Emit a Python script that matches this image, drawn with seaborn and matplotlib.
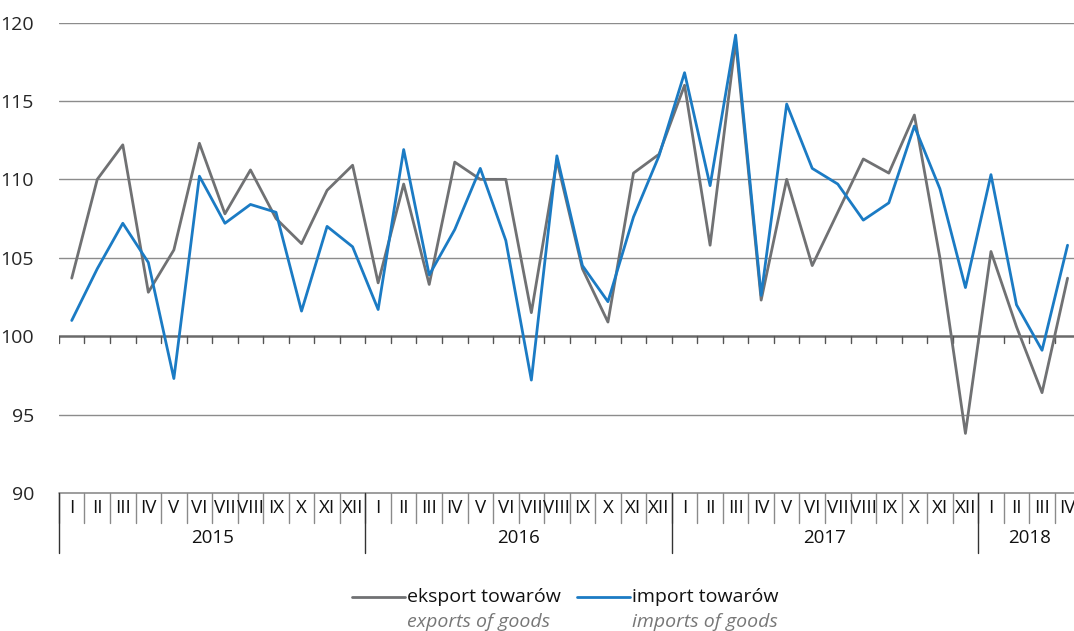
import numpy as np
import pandas as pd
import matplotlib
matplotlib.use("Agg")
import matplotlib.pyplot as plt
from matplotlib.lines import Line2D
import seaborn as sns

# dane: dynamika eksportu i importu towarów (rok poprzedni = 100)
years = ["2015", "2016", "2017", "2018"]
months_per_year = [12, 12, 12, 4]
month_names = ["I", "II", "III", "IV", "V", "VI", "VII", "VIII", "IX", "X", "XI", "XII"]

export_2015 = [103.7, 110.0, 112.2, 102.8, 105.5, 112.3, 107.8, 110.6, 107.5, 105.9, 109.3, 110.9]
export_2016 = [103.4, 109.7, 103.3, 111.1, 110.0, 110.0, 101.5, 111.2, 104.3, 100.9, 110.4, 111.6]
export_2017 = [116.0, 105.8, 118.8, 102.3, 110.0, 104.5, 107.9, 111.3, 110.4, 114.1, 105.0, 93.8]
export_2018 = [105.4, 100.6, 96.4, 103.7]

import_2015 = [101.0, 104.3, 107.2, 104.7, 97.3, 110.2, 107.2, 108.4, 107.9, 101.6, 107.0, 105.7]
import_2016 = [101.7, 111.9, 103.9, 106.8, 110.7, 106.1, 97.2, 111.5, 104.5, 102.2, 107.6, 111.5]
import_2017 = [116.8, 109.6, 119.2, 102.6, 114.8, 110.7, 109.7, 107.4, 108.5, 113.4, 109.4, 103.1]
import_2018 = [110.3, 102.0, 99.1, 105.8]

export_vals = export_2015 + export_2016 + export_2017 + export_2018
import_vals = import_2015 + import_2016 + import_2017 + import_2018
month_labels = [m for n in months_per_year for m in month_names[:n]]

df = pd.DataFrame({
    "idx": np.arange(len(month_labels)),
    "eksport": export_vals,
    "import": import_vals,
})

sns.set_style("white")
plt.rcParams["font.family"] = ["Open Sans", "DejaVu Sans"]

GRAY = "#707173"
BLUE = "#1b7bc4"

fig = plt.figure(figsize=(10.74, 6.31), dpi=100)
ax = fig.add_axes([0.0549, 0.2187, 0.951, 0.7456])

n = len(month_labels)
sns.lineplot(data=df, x="idx", y="eksport", color=GRAY, linewidth=2.0, ax=ax)
sns.lineplot(data=df, x="idx", y="import", color=BLUE, linewidth=2.0, ax=ax)

ax.set_xlim(-0.5, n - 0.5)
ax.set_ylim(90, 120)
ax.set_yticks([90, 95, 100, 105, 110, 115, 120])
ax.tick_params(axis="y", length=0, pad=18, labelsize=14)
ax.set_xticks([])
ax.set_xlabel("")
ax.set_ylabel("")
for s in ax.spines.values():
    s.set_visible(False)

for v in [95, 105, 110, 115, 120]:
    ax.axhline(v, color="#8c8c8c", linewidth=1.0, zorder=0)
ax.axhline(100, color="#6a6a6a", linewidth=1.8, zorder=0)
ax.axhline(90, color="#8c8c8c", linewidth=1.2, zorder=0, clip_on=False)

# kreski podziałki na osi 100
for k in range(n + 1):
    ax.plot([k - 0.5, k - 0.5], [100, 99.55], color="#555555", linewidth=1.0, zorder=1)

# tabela miesięcy / lat pod wykresem
tr = ax.get_xaxis_transform()
row1 = -0.064
row2 = -0.128
for i, lab in enumerate(month_labels):
    ax.text(i, row1 / 2, lab, transform=tr, ha="center", va="center", fontsize=13.5, color="#111111")
    ax.plot([i - 0.5, i - 0.5], [0, row1], transform=tr, color="#8a8a8a", linewidth=1.0, clip_on=False)

start = 0
for y, m in zip(years, months_per_year):
    ax.plot([start - 0.5, start - 0.5], [0, row2], transform=tr, color="#333333", linewidth=1.0, clip_on=False)
    ax.text(start + m / 2 - 0.5, (row1 + row2) / 2, y, transform=tr, ha="center", va="center",
            fontsize=13.5, color="#111111")
    start += m

# legenda
legend_items = [
    (352, GRAY, "eksport towarów", "exports of goods"),
    (577, BLUE, "import towarów", "imports of goods"),
]
W, H = 1074, 631
for x0, col, pl, en in legend_items:
    fig.add_artist(Line2D([x0 / W, (x0 + 53) / W], [1 - 597 / H, 1 - 597 / H], color=col, linewidth=2.0))
    fig.text((x0 + 55) / W, 1 - 597 / H, pl, ha="left", va="center", fontsize=14, color="#111111")
    fig.text((x0 + 55) / W, 1 - 622 / H, en, ha="left", va="center", fontsize=14, color="#777777",
             style="italic")

fig.savefig("out.png", dpi=100)
